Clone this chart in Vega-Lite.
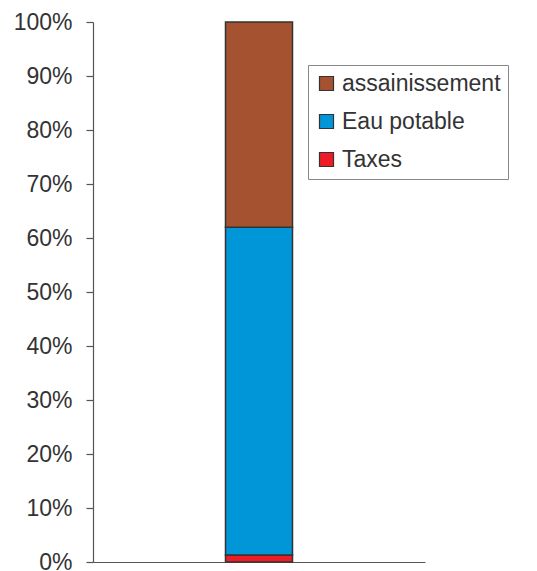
{
  "$schema": "https://vega.github.io/schema/vega-lite/v6.json",
  "width": 332,
  "height": 540,
  "autosize": "none",
  "padding": {"left": 93, "top": 22, "right": 112, "bottom": 9},
  "background": "white",
  "config": {"view": {"stroke": null}, "font": "Liberation Sans"},
  "data": {"values": [
    {"cat": "Total", "poste": "Taxes", "part": 1.3, "ord": 1},
    {"cat": "Total", "poste": "Eau potable", "part": 60.7, "ord": 2},
    {"cat": "Total", "poste": "assainissement", "part": 38.0, "ord": 3}
  ]},
  "mark": {"type": "bar", "size": 67, "stroke": "#333333", "strokeWidth": 1.5},
  "encoding": {
    "x": {"field": "cat", "type": "nominal", "axis": {"labels": false, "ticks": false, "title": null, "domainColor": "#555555", "domainWidth": 1.2}},
    "y": {"field": "part", "type": "quantitative", "stack": "normalize",
      "scale": {"domain": [0, 1], "nice": false},
      "axis": {"values": [0,0.1,0.2,0.3,0.4,0.5,0.6,0.7,0.8,0.9,1], "format": ".0%", "title": null, "grid": false,
        "labelFontSize": 23, "labelColor": "#333333", "labelPadding": 14, "tickSize": 7, "tickColor": "#555555", "domainColor": "#555555", "domainWidth": 1.2, "tickWidth": 1.2}},
    "color": {"field": "poste", "type": "nominal",
      "scale": {"domain": ["assainissement", "Eau potable", "Taxes"], "range": ["#A45230", "#0096D8", "#EE1D25"]},
      "legend": {"title": null, "orient": "none", "legendX": 215, "legendY": 43,
        "symbolType": "square", "symbolSize": 196, "symbolStrokeColor": "#333333", "symbolStrokeWidth": 1.2,
        "labelFontSize": 23, "labelColor": "#333333", "rowPadding": 14, "labelOffset": 4,
        "strokeColor": "#888888", "padding": 7, "fillColor": "white"}},
    "order": {"field": "ord", "type": "quantitative"}
  }
}
